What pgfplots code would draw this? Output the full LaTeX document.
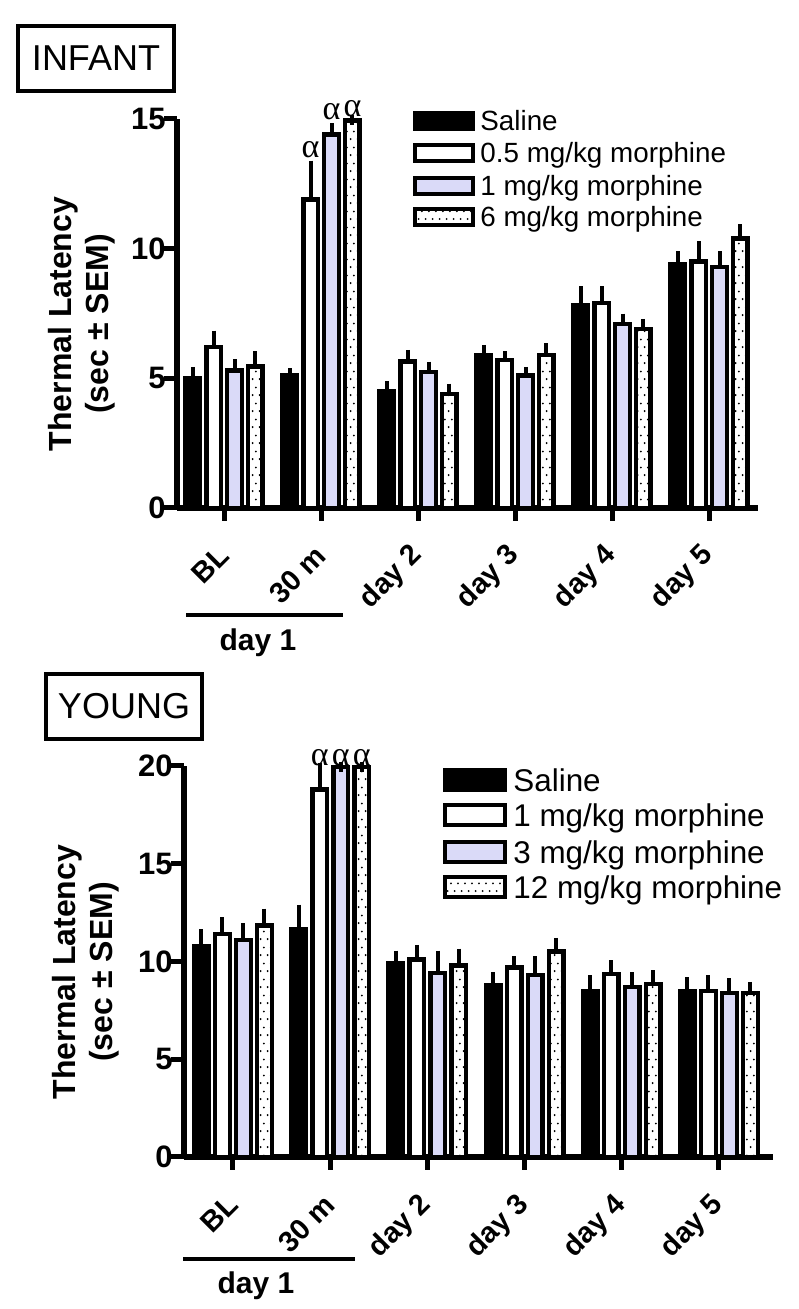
\documentclass[border=0pt]{standalone}
\usepackage{fontspec}
\setmainfont{Liberation Sans}
\newfontfamily\greekfont{Liberation Serif}
\usepackage{pgfplots}
\usepackage{pgfplotstable}
\pgfplotsset{compat=1.18}
\usetikzlibrary{patterns}

\definecolor{lav}{RGB}{218,218,248}

\newcommand\xtf{\fontsize{14.5}{17}\selectfont\bfseries}
\newcommand\ytf{\fontsize{15.5}{17}\selectfont\bfseries}
\newcommand\alphafont{\greekfont\fontsize{17}{17}\selectfont}

% sparse dots, as in the 6 / 12 mg/kg bars
\pgfdeclarepatternformonly{sparsedots}{\pgfqpoint{0pt}{0pt}}{\pgfqpoint{3.6pt}{8pt}}{\pgfqpoint{3.6pt}{8pt}}{%
  \pgfpathcircle{\pgfqpoint{0.9pt}{1pt}}{0.55pt}\pgfusepath{fill}%
  \pgfpathcircle{\pgfqpoint{2.7pt}{5pt}}{0.55pt}\pgfusepath{fill}}

% x: 0=BL, 1=30 m, 2..5 = day 2..day 5
\pgfplotstableread{
x  s    se    a     ae    b     be    c     ce
0  5.0  0.25  6.2   0.45  5.3   0.25  5.45  0.4
1  5.1  0.1   11.9  1.3   14.4  0.25  14.95 0
2  4.5  0.2   5.65  0.25  5.25  0.2   4.4   0.2
3  5.9  0.2   5.7   0.15  5.1   0.15  5.9   0.25
4  7.8  0.55  7.9   0.45  7.1   0.2   6.9   0.2
5  9.4  0.3   9.5   0.6   9.3   0.4   10.4  0.35
}\infant

\pgfplotstableread{
x  s     se    a     ae    b     be    c     ce
0  10.8  0.6   11.4  0.6   11.1  0.6   11.85 0.6
1  11.65 1.0   18.8  1.1   19.95 0     19.95 0
2  9.9   0.4   10.1  0.5   9.4   0.9   9.8   0.6
3  8.8   0.4   9.7   0.3   9.3   0.7   10.5  0.45
4  8.5   0.55  9.35  0.45  8.7   0.5   8.85  0.45
5  8.5   0.45  8.5   0.55  8.4   0.5   8.4   0.3
}\young

\tikzset{
  saline/.style={draw=black, fill=black, line width=2.25pt},
  doseA/.style={draw=black, fill=white, line width=2.25pt},
  doseB/.style={draw=black, fill=lav, line width=2.25pt},
  doseC/.style={draw=black, fill=white, postaction={pattern=sparsedots, pattern color=black}, line width=2.25pt},
}

\pgfplotsset{
  latency/.style={
    scale only axis, clip=false, ybar,
    axis x line*=bottom, axis y line*=left,
    axis line style={line width=3pt, -},
    tick align=outside, major tick length=6.5pt,
    tick style={line width=2.5pt, black},
    minor tick num=0,
    xtick={0,...,5},
    xticklabels={BL,30 m,day 2,day 3,day 4,day 5},
    yticklabel style={font=\ytf, anchor=east, inner sep=0pt, xshift=1pt},
    xticklabel style={font=\xtf, inner sep=0pt, yshift=-15pt, rotate=45, anchor=east},
    bar width=0.15,
    error bars/y dir=plus, error bars/y explicit,
    error bars/error bar style={line width=2pt, black},
    error bars/error mark options={line width=2pt, mark size=2.5pt, black},
  },
}

\begin{document}
\begin{tikzpicture}
\path[use as bounding box] (0,0) rectangle (399pt,654.5pt);

% ---------- INFANT ----------
\begin{axis}[latency,
  at={(88.5pt,400.5pt)}, anchor=south west,
  width=290.5pt, height=194.5pt,
  xmin=-0.485, xmax=5.505, ymin=0, ymax=15,
  ytick={0,5,10,15}, yticklabels={0,5,10,15},
]
\addplot[saline, bar shift=-0.324] table[x=x, y=s, y error=se] {\infant};
\addplot[doseA, bar shift=-0.108] table[x=x, y=a, y error=ae] {\infant};
\addplot[doseB, bar shift=0.108] table[x=x, y=b, y error=be] {\infant};
\addplot[doseC, bar shift=0.324] table[x=x, y=c, y error=ce] {\infant};
\node[font=\alphafont] at (axis cs:0.892,13.8) {α};
\node[font=\alphafont] at (axis cs:1.108,15.3) {α};
\node[font=\alphafont] at (axis cs:1.324,15.4) {α};
\end{axis}

% ---------- YOUNG ----------
\begin{axis}[latency,
  at={(92pt,76pt)}, anchor=south west,
  width=294.5pt, height=195.5pt,
  xmin=-0.504, xmax=5.556, ymin=0, ymax=20,
  ytick={0,5,10,15,20}, yticklabels={0,5,10,15,20},
]
\addplot[saline, bar shift=-0.324] table[x=x, y=s, y error=se] {\young};
\addplot[doseA, bar shift=-0.108] table[x=x, y=a, y error=ae] {\young};
\addplot[doseB, bar shift=0.108] table[x=x, y=b, y error=be] {\young};
\addplot[doseC, bar shift=0.324] table[x=x, y=c, y error=ce] {\young};
\node[font=\alphafont] at (axis cs:0.892,20.45) {α};
\node[font=\alphafont] at (axis cs:1.108,20.45) {α};
\node[font=\alphafont] at (axis cs:1.324,20.45) {α};
\end{axis}

% legends
\draw[saline] (207.6pt,589.9pt) rectangle (236.4pt,598.1pt);
\draw[doseA]  (207.6pt,573.9pt) rectangle (236.4pt,582.1pt);
\draw[doseB]  (207.6pt,557.4pt) rectangle (236.4pt,565.6pt);
\draw[doseC]  (207.6pt,541.9pt) rectangle (236.4pt,550.1pt);
\draw[saline] (222.6pt,259.4pt) rectangle (252.4pt,269.6pt);
\draw[doseA]  (222.6pt,241.9pt) rectangle (252.4pt,252.1pt);
\draw[doseB]  (222.6pt,223.4pt) rectangle (252.4pt,233.6pt);
\draw[doseC]  (222.6pt,205.9pt) rectangle (252.4pt,216.1pt);
\begin{scope}[every node/.style={anchor=base west, inner sep=0pt, font=\fontsize{13.9}{16}\selectfont}]
  \node at (240pt,589.1pt) {Saline};
  \node at (240pt,573.1pt) {0.5 mg/kg morphine};
  \node at (240pt,556.6pt) {1 mg/kg morphine};
  \node at (240pt,541.1pt) {6 mg/kg morphine};
\end{scope}
\begin{scope}[every node/.style={anchor=base west, inner sep=0pt, font=\fontsize{15.7}{18}\selectfont}]
  \node at (256.5pt,258.9pt) {Saline};
  \node at (256.5pt,241.4pt) {1 mg/kg morphine};
  \node at (256.5pt,222.9pt) {3 mg/kg morphine};
  \node at (256.5pt,205.4pt) {12 mg/kg morphine};
\end{scope}

% axis titles
\node[rotate=90, align=center, inner sep=0pt, font=\bfseries\fontsize{16}{18.5}\selectfont]
  at (40.75pt,492.5pt) {Thermal Latency\\(sec ± SEM)};
\node[rotate=90, align=center, inner sep=0pt, font=\bfseries\fontsize{16}{18.5}\selectfont]
  at (43pt,168.5pt) {Thermal Latency\\(sec ± SEM)};

% panel boxes
\draw[line width=2pt] (9pt,609pt) rectangle (87pt,641.5pt);
\node[font=\fontsize{18}{18}\selectfont] at (48pt,625.25pt) {INFANT};
\draw[line width=2pt] (23pt,285pt) rectangle (101pt,317.5pt);
\node[font=\fontsize{18}{18}\selectfont] at (62pt,301.25pt) {YOUNG};

% day 1 brackets
\draw[line width=2pt] (93pt,347pt) -- (171.5pt,347pt);
\node[font=\bfseries\fontsize{15}{15}\selectfont] at (129pt,333pt) {day 1};
\draw[line width=2pt] (91.5pt,25pt) -- (177.5pt,25pt);
\node[font=\bfseries\fontsize{15}{15}\selectfont] at (128pt,11.5pt) {day 1};
\end{tikzpicture}
\end{document}
